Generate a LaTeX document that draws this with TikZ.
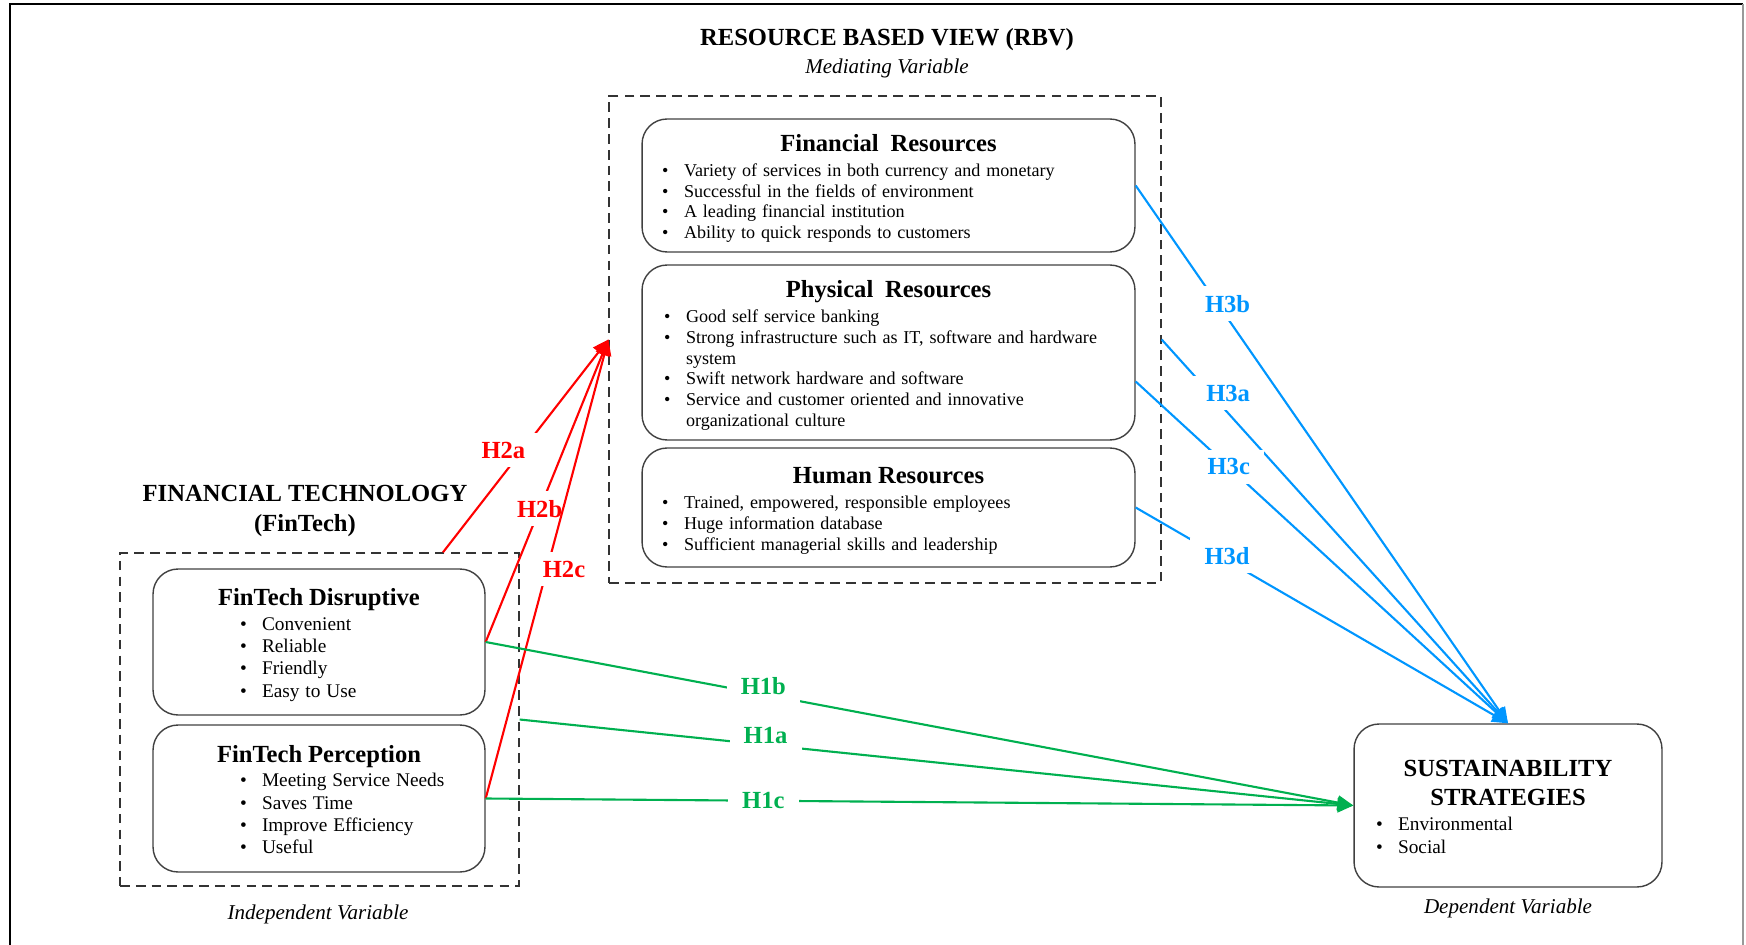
\documentclass[tikz,border=0pt]{standalone}
\usepackage{fontspec}
\setmainfont{Liberation Serif}
\usepackage{tikz}
\usetikzlibrary{arrows.meta,positioning,calc}

\definecolor{hred}{RGB}{255,0,0}
\definecolor{hgreen}{RGB}{0,176,80}
\definecolor{hblue}{RGB}{0,150,255}
\setlength{\parindent}{0pt}

\newcommand{\boxhead}[1]{{\centering\bfseries\fontsize{14}{16.3}\selectfont\rule{0pt}{14.5pt}#1\par}}
\newcommand{\smallitems}{\fontsize{10.3}{11.8}\selectfont}
\newcommand{\bigitems}{\fontsize{11}{12.7}\selectfont}
% indent, gap below head, rows
\newcommand{\blist}[3]{\vspace{#2}\hspace*{#1}\begin{tabular}[t]{@{}p{0.44cm}@{}l@{}}#3\end{tabular}\par}

\begin{document}
\begin{tikzpicture}[
  x=0.02cm, y=-0.02cm,
  res/.style={draw=black!75, line width=0.8pt, rounded corners=0.5cm,
              inner sep=0pt, text width=#1},
  dbox/.style={draw=black!80, line width=0.8pt, dash pattern=on 5.5pt off 3.5pt},
  head/.style={font=\bfseries\fontsize{14}{17}\selectfont, align=center},
  note/.style={font=\itshape\fontsize{12}{14}\selectfont},
  hlab/.style={font=\bfseries\fontsize{14}{16}\selectfont, fill=white,
               inner xsep=8pt, inner ysep=5pt},
  link/.style={line width=1.2pt},
  >={Triangle[length=9pt, width=8pt]}
]
  \useasboundingbox (0,0) rectangle (1746,945);
  \draw[line width=1pt] (10,945) -- (10,4) -- (1743,4);
  \draw[line width=1pt, black!40] (1743,4) -- (1743,945);

  % mediating variable
  \node[head] (rbvtitle) at (887,40) {RESOURCE BASED VIEW (RBV)};
  \node[note] (rbvnote) at (887,68) {Mediating Variable};
  \node[dbox, minimum width=11.04cm, minimum height=9.74cm] (rbv) at (885,339.5) {};

  \node[res=9.86cm, minimum height=2.66cm] (fin) at (888.5,185.5) {%
    \boxhead{Financial\ \ Resources}\smallitems
    \blist{0.4cm}{2.4pt}{\textbullet & Variety of services in both currency and monetary\\
      \textbullet & Successful in the fields of environment\\
      \textbullet & A leading financial institution\\
      \textbullet & Ability to quick responds to customers}};

  \node[res=9.86cm, minimum height=3.5cm] (phy) at (888.5,352.5) {%
    \boxhead{Physical\ \ Resources}\smallitems
    \blist{0.44cm}{2.4pt}{\textbullet & Good self service banking\\
      \textbullet & Strong infrastructure such as IT, software and hardware\\
      & system\\
      \textbullet & Swift network hardware and software\\
      \textbullet & Service and customer oriented and innovative\\
      & organizational culture}};

  \node[res=9.86cm, minimum height=2.38cm] (hum) at (888.5,507.5) {%
    \boxhead{Human Resources}\smallitems
    \blist{0.4cm}{2.4pt}{\textbullet & Trained, empowered, responsible employees\\
      \textbullet & Huge information database\\
      \textbullet & Sufficient managerial skills and leadership}};

  % independent variable
  \node[head] (fttitle) at (305,511) {FINANCIAL TECHNOLOGY\\(FinTech)};
  \node[dbox, minimum width=7.98cm, minimum height=6.66cm] (ftech) at (319.5,719.5) {};

  \node[res=6.64cm, minimum height=2.92cm] (dis) at (319,642) {%
    \boxhead{FinTech Disruptive}\bigitems
    \blist{1.74cm}{1.3pt}{\textbullet & Convenient\\
      \textbullet & Reliable\\
      \textbullet & Friendly\\
      \textbullet & Easy to Use}};

  \node[res=6.64cm, minimum height=2.94cm] (per) at (319,798.5) {%
    \boxhead{FinTech Perception}\bigitems
    \blist{1.74cm}{1.3pt}{\textbullet & Meeting Service Needs\\
      \textbullet & Saves Time\\
      \textbullet & Improve Efficiency\\
      \textbullet & Useful}};
  \node[note] (ftnote) at (318,914) {Independent Variable};

  % dependent variable
  \node[res=6.16cm, minimum height=3.26cm] (sus) at (1508,805.5) {%
    \boxhead{SUSTAINABILITY\\STRATEGIES}\bigitems
    \blist{0.44cm}{1.9pt}{\textbullet & Environmental\\
      \textbullet & Social}};
  \node[note] (susnote) at (1508,908) {Dependent Variable};

  % H2: fintech -> rbv
  \draw[->, link, hred] ([xshift=2.47cm]ftech.north) -- (rbv.west)
    node[hlab, pos=0.48, xshift=-0.38cm] {H2a};
  \draw[->, link, hred] (dis.east) -- (rbv.west) node[hlab, pos=0.44] {H2b};
  \draw[->, link, hred] (per.east) -- (rbv.west)
    node[hlab, pos=0.5, xshift=0.34cm] {H2c};

  % H1: fintech -> sustainability
  \draw[->, link, hgreen] (dis.east) -- (sus.west)
    node[hlab, pos=0.32, yshift=0.16cm] {H1b};
  \draw[->, link, hgreen] (ftech.east) -- (sus.west)
    node[hlab, pos=0.295, yshift=0.18cm] {H1a};
  \draw[->, link, hgreen] (per.east) -- (sus.west) node[hlab, pos=0.32] {H1c};

  % H3: rbv -> sustainability
  \draw[->, link, hblue] (fin.east) -- (sus.north)
    node[hlab, pos=0.22, xshift=0.2cm] {H3b};
  \draw[->, link, hblue] (rbv.east) -- (sus.north)
    node[hlab, pos=0.14, xshift=0.36cm] {H3a};
  \draw[->, link, hblue] ([yshift=-0.58cm]phy.east) -- (sus.north)
    node[hlab, pos=0.25] {H3c};
  \draw[->, link, hblue] (hum.east) -- (sus.north)
    node[hlab, pos=0.224, xshift=0.16cm] {H3d};
\end{tikzpicture}
\end{document}
